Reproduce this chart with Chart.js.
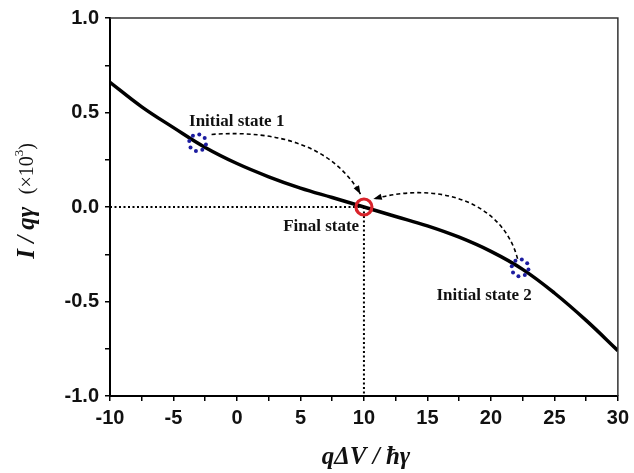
<!DOCTYPE html>
<html>
<head>
<meta charset="utf-8">
<script src="https://cdn.jsdelivr.net/npm/chart.js@4.4.1/dist/chart.umd.min.js"></script>
<style>
  html, body { margin: 0; padding: 0; background: #fff; }
  #wrap { width: 634px; height: 473px; }
</style>
</head>
<body>
<div id="wrap"><canvas id="chart"></canvas></div>
<script>
// ── Data ──────────────────────────────────────────────────────
const curveX = [-10, -7.5, -5, -2.5, 0, 2.5, 5, 7.5, 10, 12.5, 15, 17.5, 20, 22.5, 25, 27.5, 30];
const curveY = [0.66, 0.53, 0.42, 0.315, 0.23, 0.16, 0.10, 0.05, 0.0, -0.05, -0.10, -0.16, -0.235, -0.33, -0.455, -0.60, -0.76];

// dotted guides to the final state
const guideH = [{ x: -10, y: 0 }, { x: 10, y: 0 }];
const guideV = [{ x: 10, y: 0 }, { x: 10, y: -1 }];

// states marked on the curve
const initialStates = [{ x: -3.1, y: 0.34 }, { x: 22.3, y: -0.322 }];
const finalState = { x: 10, y: 0 };

// dashed arrows: start, control 1, control 2, end (data units)
const arrows = [
  [[-2.0, 0.384], [3.3, 0.41], [7.6, 0.32], [9.73, 0.068]],
  [[22.1, -0.274], [20.9, 0.032], [15.8, 0.137], [10.74, 0.042]],
];

const stateLabels = [
  { text: 'Initial state 1', x: -0.02, y: 0.453 },
  { text: 'Final state', x: 6.63, y: -0.105 },
  { text: 'Initial state 2', x: 19.47, y: -0.468 },
];

const xMin = -10, xMax = 30, xStep = 2.5;
const yMin = -1, yMax = 1, yStep = 0.25;

const SANS = "'Liberation Sans', Arial, sans-serif";
const SERIF = "'Liberation Serif', 'Times New Roman', serif";

// ── Annotation plugin: markers, arrows, labels, titles, frame ─
const annotate = {
  id: 'annotate',
  afterDatasetsDraw(chart) {
    const { ctx, scales: { x, y } } = chart;
    const px = (v) => x.getPixelForValue(v);
    const py = (v) => y.getPixelForValue(v);

    ctx.save();

    // dashed arrows
    arrows.forEach((a) => {
      const p = a.map(([u, v]) => [px(u), py(v)]);
      ctx.strokeStyle = '#000';
      ctx.lineWidth = 1.6;
      ctx.setLineDash([4, 3]);
      ctx.beginPath();
      ctx.moveTo(p[0][0], p[0][1]);
      ctx.bezierCurveTo(p[1][0], p[1][1], p[2][0], p[2][1], p[3][0], p[3][1]);
      ctx.stroke();
      ctx.setLineDash([]);
      const ang = Math.atan2(p[3][1] - p[2][1], p[3][0] - p[2][0]);
      ctx.fillStyle = '#000';
      ctx.beginPath();
      ctx.moveTo(p[3][0], p[3][1]);
      ctx.lineTo(p[3][0] - 9 * Math.cos(ang - 0.35), p[3][1] - 9 * Math.sin(ang - 0.35));
      ctx.lineTo(p[3][0] - 9 * Math.cos(ang + 0.35), p[3][1] - 9 * Math.sin(ang + 0.35));
      ctx.closePath();
      ctx.fill();
    });

    // blue dotted circles at initial states
    ctx.fillStyle = '#1c1ca0';
    initialStates.forEach((s) => {
      const cx = px(s.x), cy = py(s.y);
      for (let k = 0; k < 8; k++) {
        const t = (k / 8) * Math.PI * 2 + 0.2;
        ctx.beginPath();
        ctx.arc(cx + 8.5 * Math.cos(t), cy + 8.5 * Math.sin(t), 2, 0, Math.PI * 2);
        ctx.fill();
      }
    });

    // red circle at the final state
    ctx.strokeStyle = '#d9232a';
    ctx.lineWidth = 3.2;
    ctx.beginPath();
    ctx.arc(px(finalState.x), py(finalState.y), 8, 0, Math.PI * 2);
    ctx.stroke();

    // state labels
    ctx.fillStyle = '#111';
    ctx.font = `bold 17px ${SERIF}`;
    ctx.textAlign = 'center';
    ctx.textBaseline = 'middle';
    stateLabels.forEach((l) => ctx.fillText(l.text, px(l.x), py(l.y)));

    ctx.restore();
  },
  afterDraw(chart) {
    const { ctx, chartArea: { left, right, top, bottom } } = chart;
    ctx.save();

    // thin frame on top and right
    ctx.strokeStyle = '#333';
    ctx.lineWidth = 1.5;
    ctx.beginPath();
    ctx.moveTo(left, top);
    ctx.lineTo(right, top);
    ctx.lineTo(right, bottom);
    ctx.stroke();

    // x title
    ctx.fillStyle = '#111';
    ctx.textAlign = 'center';
    ctx.textBaseline = 'middle';
    ctx.font = `italic bold 25px ${SERIF}`;
    ctx.fillText('qΔV / ħγ', (left + right) / 2 + 2, 458);

    // y title, mixed styles
    ctx.translate(28, (top + bottom) / 2 - 6);
    ctx.rotate(-Math.PI / 2);
    ctx.textAlign = 'left';
    const parts = [
      { t: 'I / qγ  ', f: `italic bold 25px ${SERIF}`, dy: 0 },
      { t: '(×10', f: `20px ${SERIF}`, dy: 0 },
      { t: '3', f: `13px ${SERIF}`, dy: -8 },
      { t: ')', f: `20px ${SERIF}`, dy: 0 },
    ];
    let total = 0;
    parts.forEach((p) => { ctx.font = p.f; p.w = ctx.measureText(p.t).width; total += p.w; });
    let cur = -total / 2;
    parts.forEach((p) => { ctx.font = p.f; ctx.fillText(p.t, cur, p.dy); cur += p.w; });

    ctx.restore();
  },
};

const axisGrid = {
  drawOnChartArea: false,
  drawTicks: true,
  tickLength: 5,
  color: '#000',
  lineWidth: 1.5,
};

new Chart(document.getElementById('chart'), {
  type: 'scatter',
  data: {
    datasets: [
      {
        label: 'I',
        data: curveX.map((v, i) => ({ x: v, y: curveY[i] })),
        showLine: true,
        borderColor: '#000',
        borderWidth: 3.5,
        pointRadius: 0,
        tension: 0.4,
      },
      {
        label: 'guideH',
        data: guideH,
        showLine: true,
        borderColor: '#000',
        borderWidth: 2,
        borderDash: [2, 2.5],
        pointRadius: 0,
      },
      {
        label: 'guideV',
        data: guideV,
        showLine: true,
        borderColor: '#000',
        borderWidth: 2,
        borderDash: [2, 2.5],
        pointRadius: 0,
      },
    ],
  },
  options: {
    responsive: true,
    maintainAspectRatio: false,
    animation: false,
    layout: { padding: { top: 16, right: 13, left: 0, bottom: 0 } },
    plugins: {
      legend: { display: false },
      tooltip: { enabled: false },
    },
    scales: {
      x: {
        type: 'linear',
        min: xMin,
        max: xMax,
        grid: axisGrid,
        border: { color: '#000', width: 2 },
        afterFit: (s) => { s.height = 77; },
        ticks: {
          stepSize: xStep,
          autoSkip: false,
          maxRotation: 0,
          padding: 5,
          color: '#111',
          font: { family: SANS, size: 20, weight: 'bold' },
          callback: (v) => (v % 5 === 0 ? String(v) : ''),
        },
      },
      y: {
        type: 'linear',
        min: yMin,
        max: yMax,
        grid: axisGrid,
        border: { color: '#000', width: 2 },
        afterFit: (s) => { s.width = 110; },
        ticks: {
          stepSize: yStep,
          autoSkip: false,
          padding: 6,
          color: '#111',
          font: { family: SANS, size: 20, weight: 'bold' },
          callback: (v) => (Math.abs(v * 2 - Math.round(v * 2)) < 1e-6 ? v.toFixed(1) : ''),
        },
      },
    },
  },
  plugins: [annotate],
});
</script>
</body>
</html>
